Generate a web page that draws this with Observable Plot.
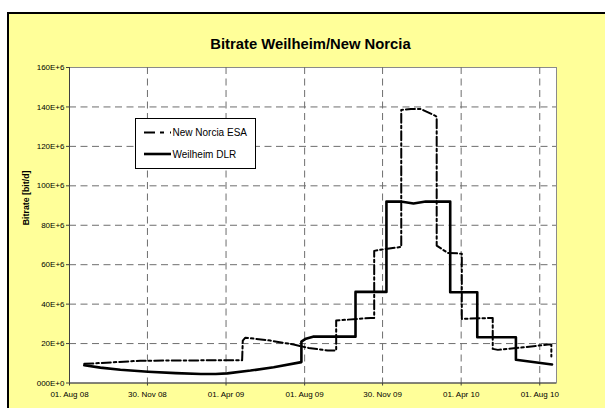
<!DOCTYPE html>
<html>
<head>
<meta charset="utf-8">
<script src="https://cdn.jsdelivr.net/npm/d3@7"></script>
<script src="https://cdn.jsdelivr.net/npm/@observablehq/plot@0.6"></script>
<style>
  html, body { margin: 0; padding: 0; background: #fff; overflow: hidden; }
  #chart svg { display: block; }
</style>
</head>
<body>
<div id="chart"></div>
<script>
// ---- data (values in millions of bit/d) ----
const titleText = "Bitrate Weilheim/New Norcia";
const yLabelText = "Bitrate [bit/d]";
const seriesNames = ["New Norcia ESA", "Weilheim DLR"];

const nnDates = ["2008-08-24","2008-10-08","2008-11-19","2009-04-26","2009-04-27","2009-05-01","2009-06-09","2009-07-15","2009-08-07","2009-09-06","2009-09-19","2009-09-19","2009-11-12","2009-11-17","2009-11-17","2009-12-05","2009-12-29","2009-12-29","2010-01-13","2010-01-28","2010-02-20","2010-02-22","2010-02-22","2010-03-11","2010-03-28","2010-04-02","2010-04-02","2010-05-17","2010-05-20","2010-05-20","2010-05-28","2010-07-07","2010-08-14","2010-08-19","2010-08-19"];
const nnValues = [9.7,10.5,11.3,11.6,21.5,23.0,21.5,19.5,17.8,16.5,16.5,31.7,33.0,33.0,67.0,68.0,69.0,138.5,139.0,139.0,135.5,135.0,69.7,66.0,65.7,65.5,32.5,33.0,33.0,17.3,16.8,18.1,19.5,19.5,13.4];

const wdDates = ["2008-08-24","2008-09-18","2008-10-19","2008-12-01","2009-01-13","2009-02-21","2009-03-16","2009-04-03","2009-05-09","2009-06-14","2009-07-27","2009-07-27","2009-08-03","2009-08-14","2009-10-19","2009-10-19","2009-12-06","2009-12-06","2009-12-28","2010-01-17","2010-02-05","2010-03-15","2010-03-15","2010-04-26","2010-04-26","2010-06-25","2010-06-25","2010-08-20"];
const wdValues = [9.0,7.8,6.7,5.7,5.0,4.6,4.6,4.9,6.3,8.0,10.6,21.0,22.5,23.5,23.5,46.2,46.2,92.0,92.0,91.0,92.0,92.0,46.0,46.0,23.2,23.2,11.8,9.4];

const yTicks = [0,20,40,60,80,100,120,140,160];
const xTickDates = ["2008-08-01","2008-11-30","2009-04-01","2009-08-01","2009-11-30","2010-04-01","2010-08-01"];
const xTickLabels = ["01. Aug 08","30. Nov 08","01. Apr 09","01. Aug 09","30. Nov 09","01. Apr 10","01. Aug 10"];
const xDomain = ["2008-08-01","2010-08-27"];

// ---- build tables ----
const nn = nnDates.map((d, i) => ({date: new Date(d), value: nnValues[i]}));
const wd = wdDates.map((d, i) => ({date: new Date(d), value: wdValues[i]}));
const xTicks = xTickDates.map(d => new Date(d));

const FONT = "'Liberation Sans', Arial, Helvetica, sans-serif";
const NN_DASH = "9,3,2.5,3";

// background panel with black left/top border (decoration); panel runs off the canvas
function backgroundMark() {
  const g = d3.create("svg:g");
  g.append("rect").attr("x", 8).attr("y", 13).attr("width", 1200).attr("height", 1200)
    .attr("fill", "#FFFF99").attr("stroke", "none");
  g.append("path").attr("d", "M8,1213V13H1213")
    .attr("fill", "none").attr("stroke", "#000").attr("stroke-width", 2);
  return g.node();
}

// legend box (decoration)
function legendMark() {
  const g = d3.create("svg:g").attr("text-anchor", "start");
  g.append("rect").attr("x", 135.5).attr("y", 118.5).attr("width", 120).attr("height", 50)
    .attr("fill", "#fff").attr("stroke", "#000").attr("stroke-width", 1);
  const rows = [
    {name: seriesNames[0], y: 132.5, dash: "11,5,4,6", w: 2},
    {name: seriesNames[1], y: 154, dash: null, w: 2.6}
  ];
  for (const r of rows) {
    const l = g.append("line").attr("x1", 144).attr("x2", 171).attr("y1", r.y).attr("y2", r.y)
      .attr("stroke", "#000").attr("stroke-width", r.w);
    if (r.dash) l.attr("stroke-dasharray", r.dash);
    g.append("text").attr("x", 172.5).attr("y", r.y).attr("dy", "0.35em")
      .attr("text-anchor", "start")
      .attr("font-size", 10).attr("font-family", FONT).attr("fill", "#000").text(r.name);
  }
  return g.node();
}

const chart = Plot.plot({
  width: 605,
  height: 408,
  marginLeft: 69,
  marginRight: 49,
  marginTop: 67,
  marginBottom: 25.5,
  style: {fontFamily: FONT, fontSize: "8px", background: "#fff", color: "#000", overflow: "hidden"},
  x: {type: "utc", domain: xDomain.map(d => new Date(d))},
  y: {domain: [0, 160]},
  marks: [
    backgroundMark,
    Plot.frame({fill: "#fff", stroke: "#8a8a8a"}),
    Plot.ruleY(yTicks.filter(v => v > 0 && v < 160), {stroke: "#6e6e6e", strokeDasharray: "7,4.5"}),
    Plot.ruleX(xTicks.slice(1), {stroke: "#6e6e6e", strokeDasharray: "7,4.5"}),
    Plot.ruleX([xTicks[0]], {stroke: "#404040"}),
    Plot.ruleY([0], {stroke: "#404040"}),
    Plot.axisY(yTicks, {
      tickSize: 3, tickPadding: 2, label: null, stroke: "#404040",
      tickFormat: v => v === 0 ? "000E+0" : `${v}E+6`
    }),
    Plot.axisX(xTicks, {
      tickSize: 3, tickPadding: 5, label: null, stroke: "#404040",
      tickFormat: d => xTickLabels[xTicks.findIndex(t => +t === +d)]
    }),
    Plot.line(wd, {x: "date", y: "value", stroke: "#000", strokeWidth: 2.6}),
    Plot.line(nn, {x: "date", y: "value", stroke: "#000", strokeWidth: 2, strokeDasharray: NN_DASH}),
    Plot.text([titleText], {frameAnchor: "top", dy: -29.5, dx: -2.5, fontSize: 14.8, fontWeight: "bold", fill: "#000"}),
    Plot.text([yLabelText], {frameAnchor: "left", dx: -43, rotate: -90, fontSize: 8.8, fontWeight: "bold", fill: "#000"}),
    legendMark
  ]
});

document.getElementById("chart").appendChild(chart);
</script>
</body>
</html>
